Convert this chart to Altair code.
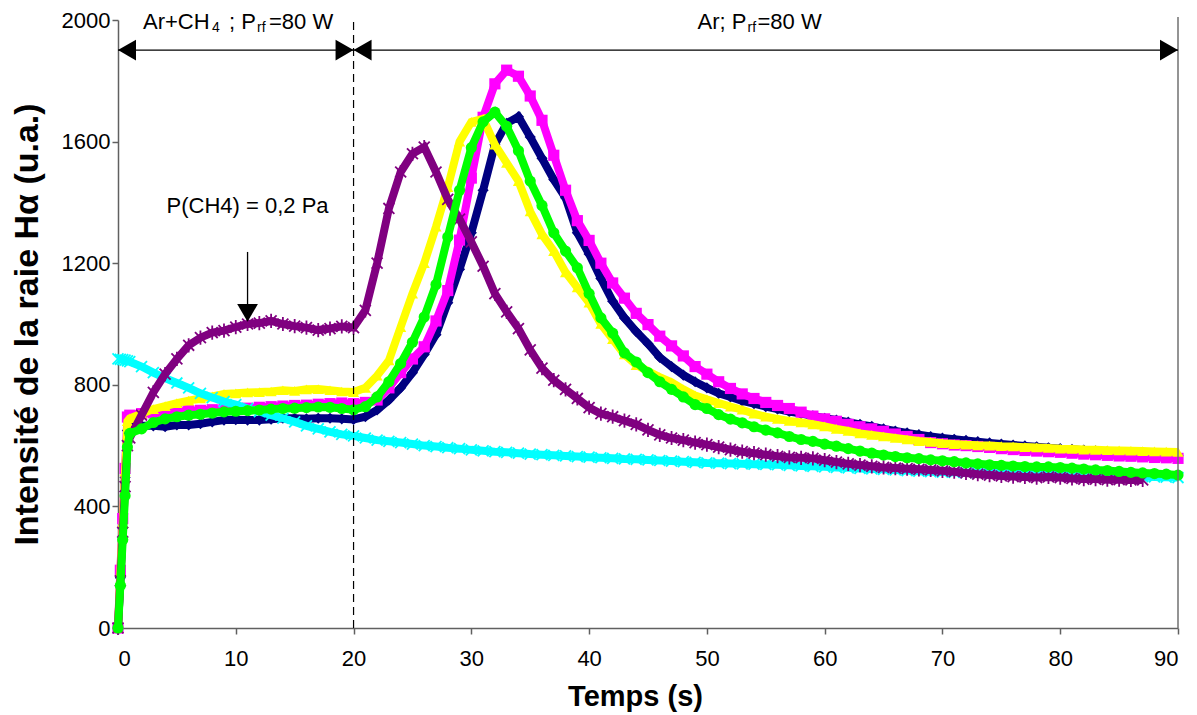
import altair as alt
import pandas as pd

# ---------------- data ----------------
T = [0, 0.2, 0.4, 0.6, 0.8, 1] + list(range(2, 91))

navy = [0, 165, 330, 495, 650, 660,
        665, 665, 662, 668, 668, 672, 678, 684, 685,
        684, 684, 687, 690, 690, 688, 690, 690, 688, 686,
        695, 717, 750, 790, 840, 900, 965, 1070, 1180, 1300,
        1440, 1590, 1660, 1682, 1615, 1545, 1475, 1415, 1300, 1230,
        1150, 1075, 1020, 975, 935, 890, 860, 832, 810, 790,
        772, 760, 747, 738, 728, 720, 712, 705, 698, 690,
        684, 677, 670, 663, 655, 648, 642, 636, 630, 625,
        621, 617, 613, 609, 605, 602, 599, 596, 593, 590,
        588, 585, 583, 580, 578, 576, 574, 571, 569, 567]

magenta = [0, 190, 360, 525, 694, 700,
           705, 708, 712, 712, 715, 716, 718, 720, 722,
           723, 726, 728, 730, 732, 733, 736, 738, 740, 738,
           742, 750, 790, 840, 885, 925, 1010, 1110, 1276, 1480,
           1680, 1790, 1835, 1815, 1750, 1670, 1555, 1440, 1340, 1275,
           1200, 1135, 1085, 1035, 998, 960, 928, 895, 860, 835,
           810, 788, 770, 755, 742, 732, 722, 710, 697, 688,
           680, 670, 662, 655, 647, 638, 630, 620, 610, 606,
           602, 600, 597, 594, 590, 587, 584, 582, 580, 578,
           575, 572, 570, 568, 566, 565, 563, 561, 560, 558]

yellow = [0, 185, 345, 515, 680, 690,
          705, 720, 730, 740, 748, 755, 762, 770, 772,
          775, 776, 778, 782, 780, 785, 786, 782, 778, 776,
          790, 830, 880, 990, 1100, 1200, 1320, 1450, 1600, 1665,
          1675, 1590, 1530, 1470, 1370, 1295, 1240, 1170, 1120, 1070,
          1000, 950, 900, 865, 845, 825, 808, 785, 765, 752,
          740, 728, 718, 705, 695, 688, 681, 676, 670, 663,
          655, 648, 640, 635, 630, 625, 620, 615, 612, 608,
          605, 603, 601, 600, 598, 597, 595, 594, 592, 590,
          589, 587, 586, 585, 584, 583, 582, 581, 580, 579]

cyan = [885, 884, 883, 881, 879, 876,
        860, 840, 822, 806, 790, 772, 758, 745, 735,
        722, 712, 700, 690, 678, 665, 655, 645, 637, 632,
        625, 618, 614, 610, 605, 600, 597, 593, 590, 586,
        583, 580, 578, 575, 572, 570, 568, 566, 564, 562,
        560, 558, 556, 555, 553, 551, 549, 547, 545, 543,
        542, 541, 540, 539, 538, 537, 535, 533, 532, 530,
        528, 527, 525, 523, 522, 520, 518, 516, 514, 513,
        512, 511, 510, 510, 509, 508, 507, 506, 506, 505,
        504, 503, 502, 501, 500, 499, 498, 497, 496, 495]

purple = [0, 155, 315, 465, 600, 625,
          700, 775, 835, 885, 930, 955, 972, 978, 990,
          1000, 1003, 1010, 1000, 993, 988, 980, 985, 992, 988,
          1045, 1200, 1380, 1500, 1560, 1582, 1500, 1410, 1345, 1270,
          1190, 1100, 1040, 985, 915, 855, 815, 785, 755, 725,
          705, 695, 682, 670, 652, 635, 625, 618, 610, 603,
          595, 587, 580, 575, 570, 565, 561, 560, 558, 552,
          546, 540, 536, 532, 528, 526, 524, 522, 520, 517,
          514, 510, 506, 503, 500, 498, 497, 495, 497, 495,
          492, 490, 490, 488, 488, 487, 487, None, None, None]

green = [0, 140, 290, 435, 595, 640,
         655, 676, 688, 695, 700, 703, 707, 711, 713,
         715, 717, 720, 722, 723, 725, 727, 726, 722, 718,
         728, 760, 810, 870, 940, 1023, 1130, 1286, 1440, 1580,
         1665, 1697, 1650, 1570, 1470, 1390, 1300, 1240, 1185, 1100,
         1020, 970, 905, 875, 840, 810, 785, 760, 735, 722,
         702, 687, 675, 662, 651, 642, 630, 620, 614, 605,
         598, 590, 582, 575, 569, 564, 560, 557, 553, 550,
         547, 543, 540, 537, 535, 533, 531, 530, 530, 528,
         526, 523, 520, 518, 515, 512, 510, 508, 506, 503]

series_names = ["s1", "s2", "s3", "s4", "s5", "s6"]
series_values = [navy, magenta, yellow, cyan, purple, green]
series_colors = ["#000080", "#FF00FF", "#FFFF00", "#00FFFF", "#800080", "#00FF00"]

x_ticks = [0, 10, 20, 30, 40, 50, 60, 70, 80, 90]
y_ticks = [0, 400, 800, 1200, 1600, 2000]

# ---------------- build table ----------------
rows = []
for name, vals in zip(series_names, series_values):
    for t, v in zip(T, vals):
        if v is not None:
            rows.append({"t": t, "v": v, "s": name})
df = pd.DataFrame(rows)

FONT = "Liberation Sans"
X_PATH = "M-1,-1L1,1M-1,1L1,-1"
STAR_PATH = "M-1,-1L1,1M-1,1L1,-1M0,-1.3L0,1.3"
shapes = ["diamond", "square", "triangle-up", X_PATH, STAR_PATH, "circle"]

xs = alt.Scale(domain=[0, 90], nice=False, zero=False)
ys = alt.Scale(domain=[0, 2000], nice=False)

X = alt.X("t:Q", scale=xs,
          axis=alt.Axis(values=x_ticks, title="Temps (s)", format="d",
                        labelPadding=14, titleFontSize=29,
                        titleX=517, titleY=68, titleAlign="center",
                        titleBaseline="middle"))
Y = alt.Y("v:Q", scale=ys,
          axis=alt.Axis(values=y_ticks, title="Intensité de la raie Hα (u.a.)",
                        format="d", labelPadding=2, titlePadding=17, titleFontSize=34))

layers = []
for name, col, shp in zip(series_names, series_colors, shapes):
    base = alt.Chart(df).transform_filter(alt.datum.s == name)
    line = base.mark_line(color=col, strokeWidth=8, clip=False).encode(x=X, y=Y)
    if shp in (X_PATH, STAR_PATH):
        pts = base.mark_point(shape=shp, filled=False, color=col, strokeWidth=1.8,
                              size=120, opacity=1).encode(x=X, y=Y)
    else:
        pts = base.mark_point(shape=shp, filled=True, color=col, size=125,
                              opacity=1).encode(x=X, y=Y)
    layers += [line, pts]

# ---------------- annotations ----------------
ann = pd.DataFrame({"x": [0], "y": [0]})

def rule(x1, x2, y1, y2, color="black", width=1.3, dash=None):
    kw = dict(color=color, strokeWidth=width)
    if dash:
        kw["strokeDash"] = dash
    return alt.Chart(ann).mark_rule(**kw).encode(
        x=alt.datum(x1, scale=xs), x2=alt.datum(x2),
        y=alt.datum(y1, scale=ys), y2=alt.datum(y2))

def head(x, y, shape, xo=0, yo=0):
    return alt.Chart(ann).mark_point(shape=shape, filled=True, color="black",
                                     size=430, opacity=1, xOffset=xo, yOffset=yo).encode(
        x=alt.datum(x, scale=xs), y=alt.datum(y, scale=ys))

def text(x, y, s, size=22, dx=0, dy=0, align="left"):
    return alt.Chart(ann).mark_text(text=s, font=FONT, fontSize=size, align=align,
                                    baseline="alphabetic", dx=dx, dy=dy, color="black").encode(
        x=alt.datum(x, scale=xs), y=alt.datum(y, scale=ys))

arrow_y = 1901
h = 9.0
ann_layers = [
    rule(20, 20, 0, 2000, width=1.2, dash=[8, 5]),
    rule(90, 90, 0, 2010, color="#707070", width=1.5),
    rule(0, 20, arrow_y, arrow_y),
    rule(20, 90, arrow_y, arrow_y),
    head(0, arrow_y, "triangle-left", xo=h),
    head(20, arrow_y, "triangle-right", xo=-h),
    head(20, arrow_y, "triangle-left", xo=h),
    head(90, arrow_y, "triangle-right", xo=-h),
    rule(11.0, 11.0, 1237, 1050),
    head(11.0, 1007, "triangle-down", yo=-h),
    text(11.0, 1365, "P(CH4) = 0,2 Pa", align="center"),
    # left label: Ar+CH4 ; Prf=80 W
    text(2.12, 1970, "Ar+CH"),
    text(2.12, 1970, "4", size=14, dx=69, dy=3),
    text(2.12, 1970, "; P", dx=86),
    text(2.12, 1970, "rf", size=14, dx=114, dy=3),
    text(2.12, 1970, "=80 W", dx=126),
    # right label: Ar; Prf=80 W
    text(49.2, 1970, "Ar; P"),
    text(49.2, 1970, "rf", size=14, dx=50, dy=3),
    text(49.2, 1970, "=80 W", dx=60),
]

chart = alt.layer(*layers, *ann_layers).properties(
    width=1060, height=608,
    padding={"left": 110, "top": 12, "right": 11, "bottom": 87},
    autosize=alt.AutoSizeParams(type="none"),
).configure_view(stroke=None).configure_axis(
    grid=False,
    domainColor="#606060", domainWidth=1.5,
    tickColor="#606060", tickWidth=1.5, tickSize=6,
    labelFont=FONT, labelFontSize=22, labelColor="black",
    titleFont=FONT, titleFontWeight="bold", titleColor="black",
)

chart.save("out.html", embed_options={"renderer": "svg", "actions": False})
